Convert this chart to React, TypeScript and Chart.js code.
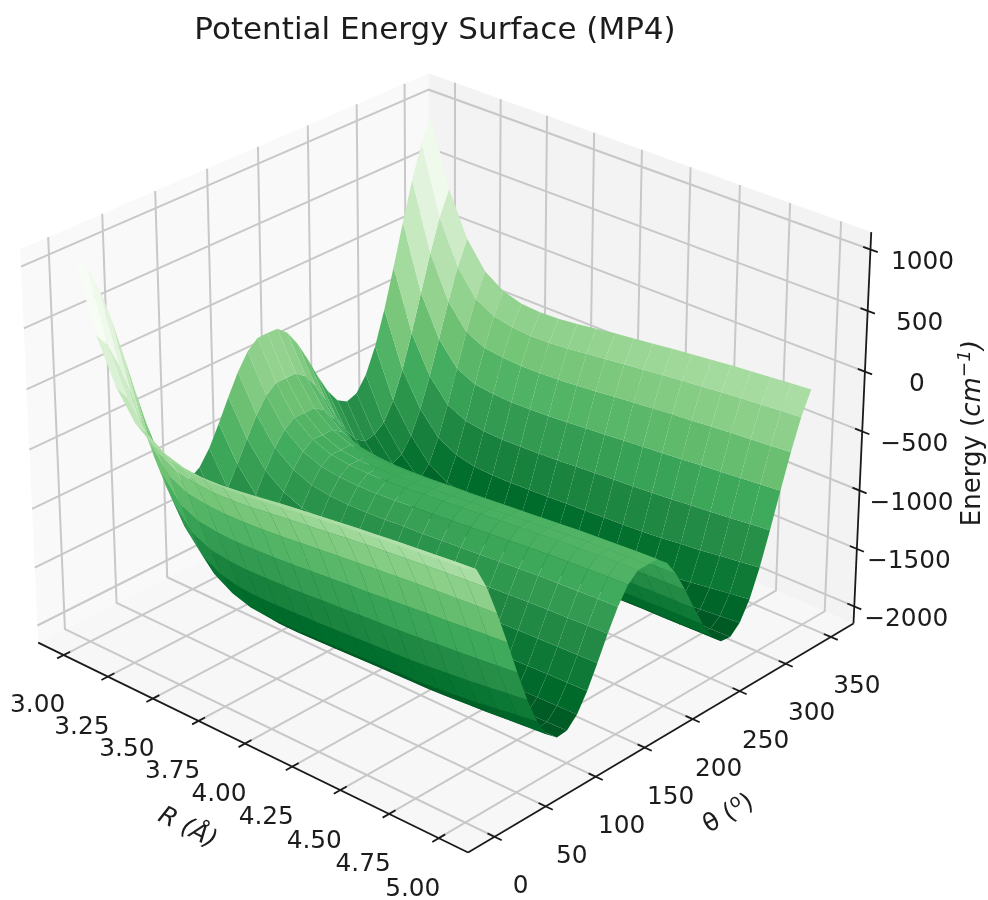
import React, { useEffect, useRef } from "react";
import { Chart, registerables } from "chart.js";
Chart.register(...registerables);

// Distances (Å) and angles (degrees) of the scan
const rValues = [3.0,3.1,3.2,3.3,3.4,3.5,3.6,3.7,3.8,3.9,4.0,4.1,4.2,4.3,4.4,4.5,4.6,4.7,4.8,4.9,5.0];
const thetaValues = [0,10,20,30,40,50,60,70,80,90,100,110,120,130,140,150,160,170,180,190,200,210,220,230,240,250,260,270,280,290,300,310,320,330,340,350];

// Energy (cm^-1) read at theta = 0, 10, ... 180 for each R; the scan is symmetric about 180 degrees
const eR30 = [1040,946,750,473,144,-204,-535,-818,-1028,-1150,-1183,-1129,-1005,-835,-648,-475,-340,-266,-264];
const eR31 = [500,381,174,-98,-405,-717,-1000,-1228,-1382,-1450,-1468,-1407,-1283,-1119,-941,-778,-653,-585,-585];
const eR32 = [140,11,-195,-457,-746,-1031,-1283,-1478,-1600,-1640,-1650,-1588,-1468,-1313,-1146,-994,-879,-818,-820];
const eR33 = [-90,-213,-410,-660,-942,-1220,-1471,-1661,-1757,-1770,-1772,-1705,-1583,-1428,-1263,-1113,-1000,-940,-943];
const eR34 = [-215,-320,-501,-736,-1015,-1295,-1555,-1757,-1850,-1860,-1857,-1785,-1658,-1499,-1331,-1178,-1063,-1002,-1005];
const eR35 = [-280,-368,-533,-757,-1035,-1319,-1592,-1809,-1902,-1910,-1903,-1826,-1695,-1531,-1359,-1203,-1085,-1023,-1025];
const eR36 = [-305,-380,-546,-766,-1042,-1327,-1602,-1823,-1921,-1935,-1926,-1846,-1713,-1546,-1370,-1212,-1092,-1029,-1030];
const eR37 = [-310,-372,-541,-763,-1038,-1323,-1600,-1823,-1924,-1940,-1930,-1849,-1714,-1546,-1369,-1209,-1088,-1024,-1025];
const eR38 = [-300,-355,-527,-754,-1030,-1316,-1593,-1818,-1919,-1935,-1924,-1844,-1708,-1538,-1361,-1200,-1079,-1014,-1015];
const eR39 = [-285,-333,-508,-741,-1019,-1307,-1586,-1811,-1913,-1930,-1919,-1837,-1700,-1529,-1350,-1187,-1065,-999,-1000];
const eR40 = [-265,-309,-488,-725,-1004,-1294,-1576,-1804,-1907,-1925,-1915,-1833,-1695,-1523,-1343,-1179,-1056,-989,-990];
const eR41 = [-245,-289,-470,-708,-991,-1283,-1567,-1797,-1902,-1921,-1911,-1828,-1689,-1515,-1333,-1167,-1042,-975,-975];
const eR42 = [-225,-270,-451,-692,-977,-1272,-1559,-1791,-1897,-1917,-1907,-1823,-1683,-1507,-1323,-1155,-1028,-960,-960];
const eR43 = [-205,-250,-433,-676,-963,-1261,-1550,-1784,-1893,-1913,-1903,-1819,-1677,-1500,-1313,-1143,-1015,-946,-945];
const eR44 = [-185,-231,-415,-659,-949,-1250,-1541,-1778,-1888,-1909,-1899,-1814,-1671,-1492,-1303,-1131,-1001,-931,-930];
const eR45 = [-168,-214,-399,-646,-935,-1236,-1527,-1763,-1878,-1905,-1895,-1809,-1664,-1483,-1293,-1119,-988,-916,-915];
const eR46 = [-150,-196,-383,-631,-919,-1219,-1507,-1743,-1866,-1900,-1889,-1803,-1657,-1474,-1282,-1107,-974,-902,-900];
const eR47 = [-135,-182,-369,-618,-906,-1205,-1491,-1724,-1854,-1897,-1887,-1800,-1653,-1469,-1275,-1099,-965,-892,-890];
const eR48 = [-120,-167,-355,-606,-891,-1188,-1469,-1700,-1839,-1893,-1883,-1796,-1648,-1463,-1268,-1091,-956,-882,-880];
const eR49 = [-105,-152,-341,-593,-876,-1171,-1448,-1677,-1825,-1889,-1879,-1792,-1643,-1457,-1261,-1083,-947,-872,-870];
const eR50 = [-92,-139,-329,-582,-862,-1154,-1427,-1653,-1810,-1885,-1875,-1788,-1639,-1453,-1256,-1077,-940,-865,-863];
const halfRows = [eR30,eR31,eR32,eR33,eR34,eR35,eR36,eR37,eR38,eR39,eR40,eR41,eR42,eR43,eR44,eR45,eR46,eR47,eR48,eR49,eR50];
const energy = halfRows.map((row) => thetaValues.map((t) => row[Math.min(t, 360 - t) / 10]));

const rTicks = ["3.00","3.25","3.50","3.75","4.00","4.25","4.50","4.75","5.00"];
const thetaTicks = ["0","50","100","150","200","250","300","350"];
const zTicks = ["1000","500","0","−500","−1000","−1500","−2000"];
const greens = ["#00441b","#006d2c","#238b45","#41ab5d","#74c476","#a1d99b","#c7e9c0","#e5f5e0","#f7fcf5"];

const ELEV = 27.5, AZIM = -47.7, S = 4754, CX = 447.3, CY = 441;
const R_LIM = [2.9, 5.1], T_LIM = [-17.5, 367.5], Z_LIM = [-2083, 1074];
const PAD = 1 / 48;

const rad = Math.PI / 180;
const se = Math.sin(ELEV * rad), ce = Math.cos(ELEV * rad), sa = Math.sin(AZIM * rad), ca = Math.cos(AZIM * rad);
const BOX = [1.19048, 1.19048, 0.89286];
function proj(tx: number, ty: number, tz: number) {
  const qx = (tx - 0.5) * BOX[0], qy = (ty - 0.5) * BOX[1], qz = (tz - 0.5) * BOX[2];
  const xc = -sa * qx + ca * qy;
  const yc = -se * ca * qx - se * sa * qy + ce * qz;
  const d = ce * ca * qx + ce * sa * qy + se * qz;
  const den = 10 - d;
  return { x: xc / den, y: yc / den, den };
}
const nr = (v: number) => (v - R_LIM[0]) / (R_LIM[1] - R_LIM[0]);
const nt = (v: number) => (v - T_LIM[0]) / (T_LIM[1] - T_LIM[0]);
const nz = (v: number) => (v - Z_LIM[0]) / (Z_LIM[1] - Z_LIM[0]);
function hex(c: string) { return [1, 3, 5].map((i) => parseInt(c.slice(i, i + 2), 16)); }
function cmap(t: number) {
  const p = Math.max(0, Math.min(1, t)) * 8, i = Math.min(7, Math.floor(p)), f = p - i;
  const A = hex(greens[i]), B = hex(greens[i + 1]);
  return `rgb(${A.map((v, k) => Math.round(v + (B[k] - v) * f)).join(",")})`;
}
const line = (pts: number[][], color: string, w: number) => ({
  data: pts.map((p) => proj(p[0], p[1], p[2])), showLine: true, borderColor: color, borderWidth: w, pointRadius: 0, fill: false, borderCapStyle: "butt",
});
const shape = (pts: number[][], color: string) => ({
  data: [...pts, pts[0]].map((p) => proj(p[0], p[1], p[2])), showLine: true, borderWidth: 0, borderColor: "transparent", backgroundColor: color, pointRadius: 0, fill: "shape",
});

function buildDatasets() {
  const lo = -PAD, hi = 1 + PAD, out: any[] = [];
  out.push(shape([[lo,lo,lo],[hi,lo,lo],[hi,hi,lo],[lo,hi,lo]], "#f7f7f7"));
  out.push(shape([[lo,lo,lo],[lo,hi,lo],[lo,hi,hi],[lo,lo,hi]], "#f9f9f9"));
  out.push(shape([[lo,hi,lo],[hi,hi,lo],[hi,hi,hi],[lo,hi,hi]], "#f3f3f3"));
  const G = "#c8c8c8", GW = 2;
  rTicks.forEach((s) => { const t = nr(+s); out.push(line([[t,lo,lo],[t,hi,lo],[t,hi,hi]], G, GW)); });
  thetaTicks.forEach((s) => { const t = nt(+s); out.push(line([[hi,t,lo],[lo,t,lo],[lo,t,hi]], G, GW)); });
  zTicks.forEach((s) => { const t = nz(+s.replace("−", "-")); out.push(line([[lo,lo,t],[lo,hi,t],[hi,hi,t]], G, GW)); });
  const K = "#1a1a1a", KW = 1.8, TK = 0.016;
  out.push(line([[lo,lo,lo],[hi,lo,lo]], K, KW));
  out.push(line([[hi,lo,lo],[hi,hi,lo]], K, KW));
  out.push(line([[hi,hi,lo],[hi,hi,hi]], K, KW));
  rTicks.forEach((s) => { const t = nr(+s); out.push(line([[t,lo-TK,lo],[t,lo+TK,lo]], K, KW)); });
  thetaTicks.forEach((s) => { const t = nt(+s); out.push(line([[hi-TK,t,lo],[hi+TK,t,lo]], K, KW)); });
  zTicks.forEach((s) => { const t = nz(+s.replace("−", "-")); out.push(line([[hi-TK,hi,t],[hi+TK,hi,t]], K, KW)); });

  const quads: { pts: number[][]; z: number; depth: number }[] = [];
  let mn = Infinity, mx = -Infinity;
  for (let i = 0; i < rValues.length - 1; i++) for (let j = 0; j < thetaValues.length - 1; j++) {
    const c = [[i,j],[i+1,j],[i+1,j+1],[i,j+1]];
    const pts = c.map(([a,b]) => [nr(rValues[a]), nt(thetaValues[b]), nz(energy[a][b])]);
    const z = c.reduce((s,[a,b]) => s + energy[a][b], 0) / 4;
    const depth = pts.reduce((s,p) => s + proj(p[0],p[1],p[2]).den, 0) / 4;
    mn = Math.min(mn, z); mx = Math.max(mx, z);
    quads.push({ pts, z, depth });
  }
  quads.sort((a, b) => b.depth - a.depth);
  const cLow = mn - 0.04 * (mx - mn);
  quads.forEach((q) => out.push(shape(q.pts, cmap((q.z - cLow) / (mx - cLow)))));
  return out.reverse();
}

const INK = "#1c1c1c";
type Seg = [string, string, number?];
function drawSegs(ctx: CanvasRenderingContext2D, segs: Seg[], x: number, y: number, rot: number) {
  ctx.save(); ctx.translate(x, y); ctx.rotate(rot * rad); ctx.textBaseline = "alphabetic"; ctx.textAlign = "left"; ctx.fillStyle = INK;
  let w = 0; segs.forEach((s) => { ctx.font = s[1]; w += ctx.measureText(s[0]).width; });
  let p = -w / 2; segs.forEach((s) => { ctx.font = s[1]; ctx.fillText(s[0], p, 8 + (s[2] || 0)); p += ctx.measureText(s[0]).width; });
  ctx.restore();
}
const FF = '"DejaVu Sans"';
const labelPlugin = {
  id: "labels3d",
  afterDraw(chart: any) {
    const { ctx, scales } = chart;
    const px = (p: any) => [scales.x.getPixelForValue(p.x), scales.y.getPixelForValue(p.y)];
    const lo = -PAD, hi = 1 + PAD;
    ctx.save(); ctx.font = `24.8px ${FF}`; ctx.fillStyle = INK; ctx.textAlign = "center"; ctx.textBaseline = "middle";
    rTicks.forEach((s) => { const [a, b] = px(proj(nr(+s), lo, lo)); ctx.fillText(s, a - 26, b + 51); });
    thetaTicks.forEach((s) => { const [a, b] = px(proj(hi, nt(+s), lo)); ctx.fillText(s, a + 26, b + 50); });
    zTicks.forEach((s) => { const [a, b] = px(proj(hi, hi, nz(+s.replace("−", "-")))); ctx.fillText(s, a + 52, b + 13); });
    ctx.font = `31px ${FF}`; ctx.fillText("Potential Energy Surface (MP4)", 435, 31);
    ctx.restore();
    const I = `italic 25px ${FF}`, N = `25px ${FF}`, SUP = `18px ${FF}`;
    const I2 = `italic 26px ${FF}`, N2 = `26px ${FF}`, SI2 = `italic 18.5px ${FF}`;
    drawSegs(ctx, [["R (Å)", I]], 188, 827, 27);
    drawSegs(ctx, [["θ (", N], ["o", SUP, -9], [")", N]], 728, 813, -30);
    drawSegs(ctx, [["Energy (", N2], ["cm", I2], ["−1", SI2, -10], [")", I2]], 972, 433, -90);
  },
};

export default function App() {
  const ref = useRef<HTMLCanvasElement>(null);
  useEffect(() => {
    const chart = new Chart(ref.current!, {
      type: "scatter",
      data: { datasets: buildDatasets() },
      options: {
        animation: false, responsive: false, events: [], layout: { padding: 0 },
        plugins: { legend: { display: false }, tooltip: { enabled: false }, title: { display: false } },
        scales: {
          x: { type: "linear", display: false, min: -CX / S, max: (988 - CX) / S },
          y: { type: "linear", display: false, min: (CY - 900) / S, max: CY / S },
        },
      },
      plugins: [labelPlugin],
    } as any);
    return () => chart.destroy();
  }, []);
  return <canvas ref={ref} width={988} height={900} style={{ position: "absolute", left: 0, top: 0, background: "#fff" }} />;
}
